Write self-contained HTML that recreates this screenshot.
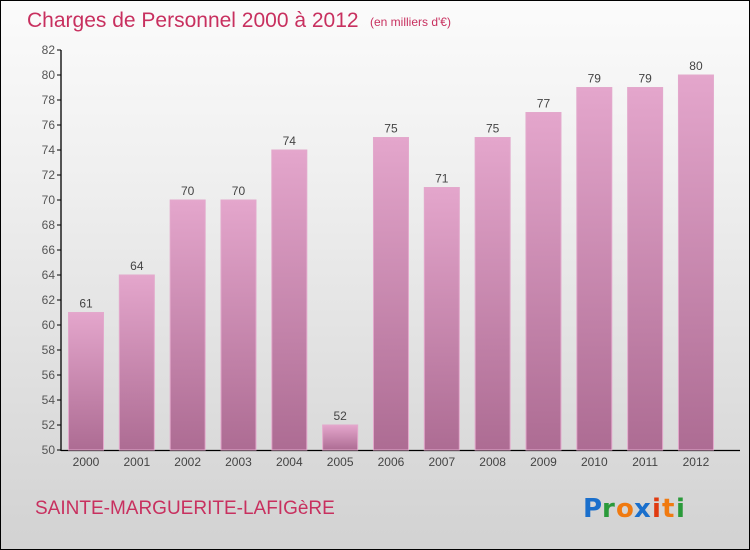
<!DOCTYPE html>
<html><head><meta charset="utf-8"><style>
body{margin:0}
#wrap{position:relative;width:748px;height:548px;border:1px solid #000;background:linear-gradient(#fbfbfb,#f0f0f0 30%,#d2d2d2);font-family:"Liberation Sans",sans-serif;overflow:hidden}
</style></head><body>
<div id="wrap">
<svg width="748" height="548" viewBox="1 1 748 548" xmlns="http://www.w3.org/2000/svg">
<defs><linearGradient id="bg" x1="0" y1="0" x2="0" y2="1"><stop offset="0" stop-color="#e4a6cc"/><stop offset="1" stop-color="#ad6c93"/></linearGradient></defs>
<text x="27" y="27" font-size="21" fill="#c8305f">Charges de Personnel 2000 à 2012</text>
<text x="370" y="26" font-size="12" fill="#c8305f">(en milliers d'€)</text>
<g id="axes"></g><g id="bars"></g>
<text x="35" y="514" font-size="19" fill="#c8305f">SAINTE-MARGUERITE-LAFIGèRE</text>
<g font-size="26" font-weight="bold" font-family="'DejaVu Sans',sans-serif">
<text x="583" y="517" fill="#1a6fcc">P</text><text x="602" y="517" fill="#2a9a3a">r</text><text x="616" y="517" fill="#f07a10">o</text><text x="634" y="517" fill="#1a6fcc">x</text><text x="652" y="517" fill="#e03a10">i</text><text x="662" y="517" fill="#f07a10">t</text><text x="676" y="517" fill="#2a9a3a">i</text>
</g>
</svg></div>
<script>
const years=["2000","2001","2002","2003","2004","2005","2006","2007","2008","2009","2010","2011","2012"];
const values=[61,64,70,70,74,52,75,71,75,77,79,79,80];
const ticks=[50,52,54,56,58,60,62,64,66,68,70,72,74,76,78,80,82];
const NS="http://www.w3.org/2000/svg";
const y=v=>450-(v-50)*12.5;
const x=i=>86+i*50.83;
function mk(t,a,p){const e=document.createElementNS(NS,t);for(const k in a)e.setAttribute(k,a[k]);p.appendChild(e);return e;}
const ax=document.getElementById('axes'),bg=document.getElementById('bars');
const yl=mk('line',{x1:61,y1:50,x2:61,y2:451,stroke:'#000','stroke-width':1.3},ax);


const xl=mk('line',{x1:61,y1:450.5,x2:740,y2:450.5,stroke:'#000','stroke-width':1.3},ax);


ticks.forEach(t=>{
 mk('line',{x1:57,y1:y(t),x2:61,y2:y(t),stroke:'#000'},ax);
 const tx=mk('text',{x:55,y:y(t)+4,'font-size':12,fill:'#555','text-anchor':'end'},ax);tx.textContent=t;
 
 
});
years.forEach((yr,i)=>{
 const r=mk('rect',{x:x(i)-17.5,y:y(values[i]),width:35,height:450-y(values[i]),fill:'url(#bg)',stroke:'#e3a9cc','stroke-width':1},bg);
 
 
 const v=mk('text',{x:x(i),y:y(values[i])-5,'font-size':12,fill:'#444','text-anchor':'middle'},bg);v.textContent=values[i];
 
 
 const l=mk('text',{x:x(i),y:466,'font-size':12,fill:'#444','text-anchor':'middle'},bg);l.textContent=yr;
 
 
});
</script>
</body></html>
